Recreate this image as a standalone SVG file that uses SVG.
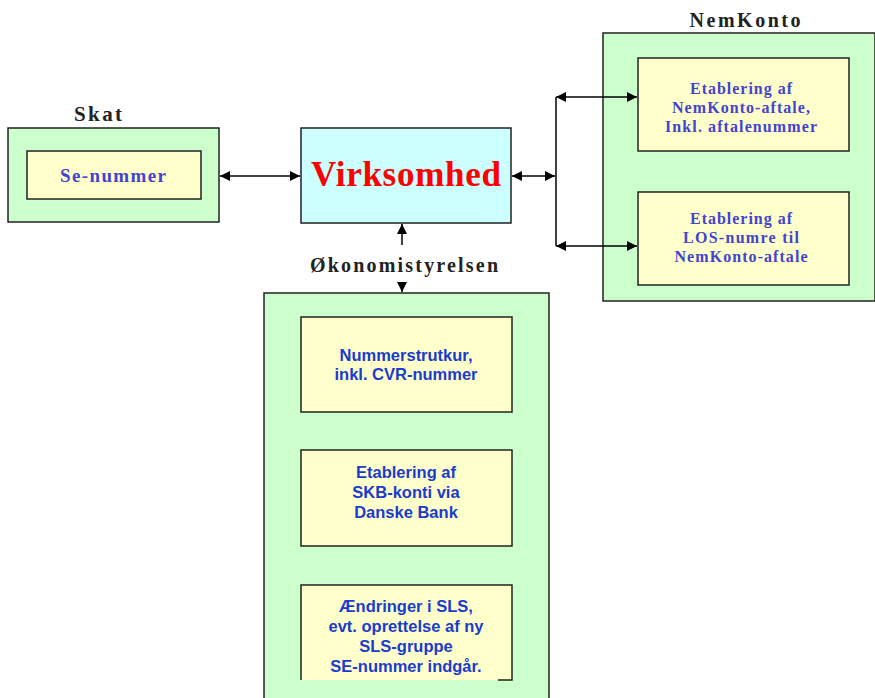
<svg xmlns="http://www.w3.org/2000/svg" width="875" height="698" viewBox="0 0 875 698">
<style>
.outer{fill:#ccffcc;stroke:#222;stroke-width:1.5}
.inner{fill:#ffffcc;stroke:#222;stroke-width:1.5}
.title{font-family:"Liberation Serif",serif;font-weight:bold;fill:#222;text-anchor:middle}
.tb{font-family:"Liberation Serif",serif;font-weight:bold;fill:#4444cc;text-anchor:middle;font-size:16px}
.ab{font-family:"Liberation Sans",Arial,sans-serif;font-weight:bold;fill:#1a3ccc;text-anchor:middle;font-size:16.5px}
.conn{stroke:#000;stroke-width:1.5;fill:none}
</style>
<defs>
<marker id="ah" viewBox="0 0 10 10" refX="10" refY="5" markerWidth="11" markerHeight="10" markerUnits="userSpaceOnUse" orient="auto-start-reverse">
<path d="M0,0 L10,5 L0,10 z" fill="#000"/>
</marker>
</defs>
<rect width="875" height="698" fill="#fff"/>

<g id="skat">
<text class="title" x="98" y="121" font-size="21" textLength="48" lengthAdjust="spacing">Skat</text>
<rect class="outer" x="8" y="128" width="211" height="94"/>
<rect class="inner" x="27" y="151" width="174" height="48"/>
<text class="tb" x="113" y="182" style="font-size:19px" textLength="106" lengthAdjust="spacing">Se-nummer</text>
</g>

<g id="virksomhed">
<rect x="301" y="128" width="210" height="95" fill="#ccffff" stroke="#222" stroke-width="1.5"/>
<text x="406" y="186" font-family="Liberation Serif,serif" font-weight="bold" font-size="35" fill="#ff0000" text-anchor="middle" textLength="190" lengthAdjust="spacing">Virksomhed</text>
</g>

<g id="nemkonto">
<text class="title" x="745" y="27" font-size="20" textLength="111" lengthAdjust="spacing">NemKonto</text>
<rect class="outer" x="603" y="33" width="272" height="268"/>
<rect class="inner" x="638" y="58" width="211" height="93"/>
<text class="tb" x="741" y="94" textLength="102" lengthAdjust="spacing">Etablering af</text>
<text class="tb" x="741" y="113" textLength="138" lengthAdjust="spacing">NemKonto-aftale,</text>
<text class="tb" x="741" y="132" textLength="152" lengthAdjust="spacing">Inkl. aftalenummer</text>
<rect class="inner" x="638" y="192" width="211" height="93"/>
<text class="tb" x="741" y="224" textLength="102" lengthAdjust="spacing">Etablering af</text>
<text class="tb" x="741" y="243" textLength="116" lengthAdjust="spacing">LOS-numre til</text>
<text class="tb" x="741" y="262" textLength="133" lengthAdjust="spacing">NemKonto-aftale</text>
</g>

<g id="okonomistyrelsen">
<text class="title" x="404" y="272" font-size="20" textLength="188" lengthAdjust="spacing">Økonomistyrelsen</text>
<rect class="outer" x="264" y="293" width="285" height="410"/>
<rect class="inner" x="301" y="317" width="211" height="95"/>
<text class="ab" x="406" y="361">Nummerstrutkur,</text>
<text class="ab" x="406" y="380">inkl. CVR-nummer</text>
<rect class="inner" x="301" y="450" width="211" height="96"/>
<text class="ab" x="406" y="478">Etablering af</text>
<text class="ab" x="406" y="498">SKB-konti via</text>
<text class="ab" x="406" y="518">Danske Bank</text>
<rect x="301" y="585" width="211" height="95" fill="#ffffcc"/>
<path d="M301,680 V585 H512 V680 H498" fill="none" stroke="#222" stroke-width="1.5"/>
<text class="ab" x="406" y="612">Ændringer i SLS,</text>
<text class="ab" x="406" y="632">evt. oprettelse af ny</text>
<text class="ab" x="406" y="652">SLS-gruppe</text>
<text class="ab" x="406" y="672">SE-nummer indgår.</text>
</g>

<g id="connectors">
<line class="conn" x1="220" y1="176" x2="300" y2="176" marker-start="url(#ah)" marker-end="url(#ah)"/>
<line class="conn" x1="512" y1="176" x2="555" y2="176" marker-start="url(#ah)" marker-end="url(#ah)"/>
<line class="conn" x1="556" y1="97" x2="556" y2="246"/>
<line class="conn" x1="556" y1="97" x2="637" y2="97" marker-start="url(#ah)" marker-end="url(#ah)"/>
<line class="conn" x1="556" y1="246" x2="637" y2="246" marker-start="url(#ah)" marker-end="url(#ah)"/>
<line class="conn" x1="402" y1="245" x2="402" y2="224" marker-end="url(#ah)"/>
<line class="conn" x1="402" y1="283" x2="402" y2="292" marker-end="url(#ah)"/>
</g>
</svg>
